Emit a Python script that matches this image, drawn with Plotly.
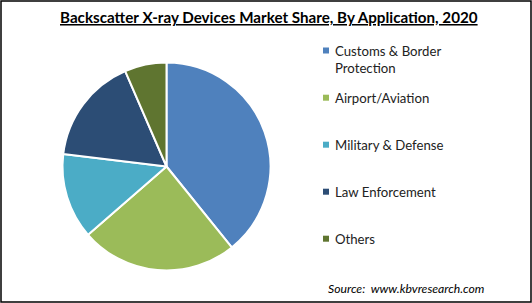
import plotly.graph_objects as go

categories = ["Customs & Border Protection", "Airport/Aviation", "Military & Defense", "Law Enforcement", "Others"]
legend_labels = ["Customs & Border<br>Protection", "Airport/Aviation", "Military & Defense", "Law Enforcement", "Others"]
shares = [39.2, 24.4, 13.3, 16.6, 6.5]
colors = ["#4F81BD", "#9BBB59", "#4BACC6", "#2C4D75", "#5F7530"]

W, H = 532, 303
FONT = "Lato, 'Open Sans', sans-serif"

fig = go.Figure(go.Pie(
    labels=categories, values=shares, sort=False, direction="clockwise", rotation=0,
    marker=dict(colors=colors, line=dict(color="white", width=2)),
    textinfo="none", hoverinfo="label+percent", showlegend=False,
    domain=dict(x=[62/W, 271/W], y=[1-270.5/H, 1-62.5/H]),
))

shapes = [dict(type="rect", xref="paper", yref="paper", x0=1/W, x1=1-1/W, y0=1/H, y1=1-1/H,
               line=dict(color="black", width=1.5), fillcolor="rgba(0,0,0,0)")]
annotations = []
top_y = 50.5
for i, (lab, col) in enumerate(zip(legend_labels, colors)):
    yc = top_y if i == 0 else 97.7 + (i - 1) * 47
    shapes.append(dict(type="rect", xref="paper", yref="paper",
                       x0=323/W, x1=329/W, y0=1-(yc+3)/H, y1=1-(yc-3)/H,
                       line=dict(width=0), fillcolor=col))
    annotations.append(dict(text=lab, x=333/W, y=1-(yc-9.5)/H, xref="paper", yref="paper",
                            xanchor="left", yanchor="top", align="left", showarrow=False,
                            font=dict(family=FONT, size=13.2, color="#222")))

annotations.append(dict(text="<b><u>Backscatter X-ray Devices Market Share, By Application, 2020</u></b>",
                        x=268.5/W, y=1-17/H, xref="paper", yref="paper", xanchor="center", yanchor="middle",
                        showarrow=False, font=dict(family=FONT, size=15.2, color="black")))
annotations.append(dict(text="<i>Source:  www.kbvresearch.com</i>", x=486/W, y=1-288/H,
                        xref="paper", yref="paper", xanchor="right", yanchor="middle",
                        showarrow=False, font=dict(family=FONT, size=12.2, color="black")))

fig.update_layout(width=W, height=H, margin=dict(l=0, r=0, t=0, b=0),
                  paper_bgcolor="white", plot_bgcolor="white",
                  shapes=shapes, annotations=annotations)
fig.write_html("out.html")
